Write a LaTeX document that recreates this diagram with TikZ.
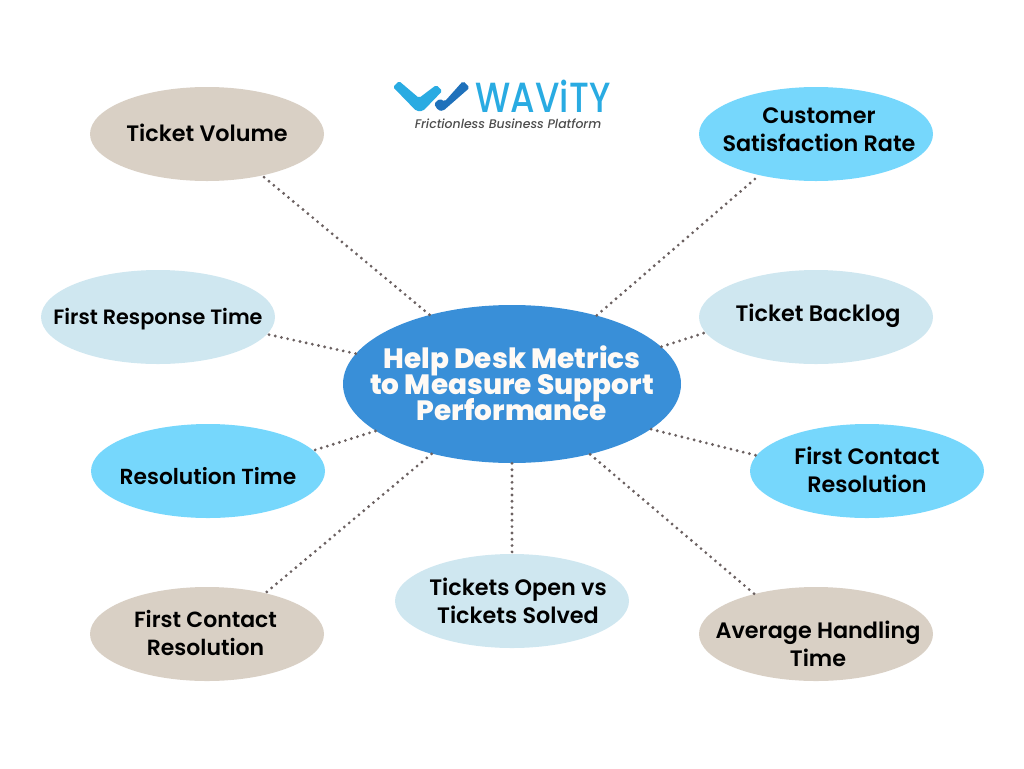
\documentclass[tikz,border=0pt]{standalone}
\usepackage{fontspec}
\setmainfont[BoldFont={Poppins SemiBold}]{Poppins}
\newfontfamily\titlefont{Poppins ExtraBold}
\newfontfamily\brandfont{Poppins Medium}
\newfontfamily\tagfont{Poppins Medium Italic}
\usepackage{xcolor}
\usetikzlibrary{shapes.geometric}
\definecolor{tanfill}{HTML}{D9D0C5}
\definecolor{palefill}{HTML}{CFE7F0}
\definecolor{skyfill}{HTML}{76D7FC}
\definecolor{hubfill}{HTML}{398FD8}
\definecolor{linkgray}{HTML}{6B6161}
\definecolor{logolight}{HTML}{29ABE2}
\definecolor{logodark}{HTML}{1F71BB}
\newcommand{\hubtitle}{\titlefont\fontsize{15.9}{14.74}\selectfont\setlength{\lineskiplimit}{-20pt}}
\tikzset{
    metric/.style={ellipse, minimum width=234*0.02cm, minimum height=94*0.02cm, inner sep=0pt, outer sep=0pt},
    metriclabel/.style={font=\fontsize{12.7}{15.9}\selectfont\bfseries, align=center, text=black},
    nudge/.style 2 args={xshift=#1*0.02cm, yshift=-#2*0.02cm},
    link/.style={draw=linkgray, line width=1.8pt, line cap=round, dash pattern=on 0pt off 3.6pt},
}
\begin{document}
\begin{tikzpicture}[x=0.02cm, y=-0.02cm]
    \useasboundingbox (0,0) rectangle (1024,768);

    % Centre
    \node[ellipse, fill=hubfill, minimum width=338*0.02cm, minimum height=158*0.02cm, inner sep=0pt,
        label={[font=\hubtitle, align=center, text=white!96!orange, nudge={0}{-1}]center:Help Desk Metrics\\to Measure Support\\Performance}] (hub) at (512, 384) {};

    % Left column
    \node[metric, fill=tanfill, label={[metriclabel, nudge={0}{-1}]center:Ticket Volume}] (volume) at (207, 134) {};
    \node[metric, fill=palefill, label={[metriclabel, font=\fontsize{11.8}{15.9}\selectfont\bfseries, nudge={0}{2}]center:First Response Time}] (response) at (158, 317) {};
    \node[metric, fill=skyfill, label={[metriclabel, font=\fontsize{12.4}{15.9}\selectfont\bfseries, nudge={0}{5}]center:Resolution Time}] (resolution) at (208, 471) {};
    \node[metric, fill=tanfill, label={[metriclabel, font=\fontsize{12.5}{15.9}\selectfont\bfseries, nudge={-1.5}{-1}]center:First Contact\\Resolution}] (contactleft) at (207, 634) {};

    % Bottom
    \node[metric, fill=palefill, label={[metriclabel, nudge={6}{0}]center:Tickets Open vs\\Tickets Solved}] (open) at (512, 601) {};

    % Right column
    \node[metric, fill=skyfill, label={[metriclabel, nudge={3}{-4}]center:Customer\\Satisfaction Rate}] (satisfaction) at (816, 134) {};
    \node[metric, fill=palefill, label={[metriclabel, nudge={2}{-1}]center:Ticket Backlog}] (backlog) at (816, 317) {};
    \node[metric, fill=skyfill, label={[metriclabel, nudge={0}{-1}]center:First Contact\\Resolution}] (contactright) at (867, 471) {};
    \node[metric, fill=tanfill, label={[metriclabel, nudge={2}{10}]center:Average Handling\\Time}] (handling) at (816, 634) {};

    % Links
    \draw[link] (hub.140.9) -- (volume.-37.5);
    \draw[link] (hub.169.5) -- (response.-9.3);
    \draw[link] (hub.199.7) -- (resolution.11.1);
    \draw[link] (hub.221.2) -- (contactleft.35.2);
    \draw[link] (hub.270) -- (open.90);
    \draw[link] (hub.39.5) -- (satisfaction.216.6);
    \draw[link] (hub.14.1) -- (backlog.188.7);
    \draw[link] (hub.-18.2) -- (contactright.172.3);
    \draw[link] (hub.-42.3) -- (handling.147);

    % Logo
    \fill[logolight, rounded corners=1pt] (393,87) -- (399,81) -- (419,98) -- (436.3,85) -- (442.3,91) -- (423,111) -- (416.3,111) -- cycle;
    \fill[logodark, rounded corners=1pt] (463,81) -- (469.7,87.7) -- (443,111) -- (438,110.3) -- (434,103.7) -- (439.7,98.7) -- (444.7,101.5) -- cycle;
    \node[font=\fontsize{24}{24}\selectfont\brandfont, text=logolight, inner sep=0pt, xscale=0.835] (brand) at (543, 96) {WAViTY};
    \node[font=\fontsize{7.1}{7.1}\selectfont\tagfont, text=black!70, inner sep=0pt] (tagline) at (508, 124) {Frictionless Business Platform};
\end{tikzpicture}
\end{document}
